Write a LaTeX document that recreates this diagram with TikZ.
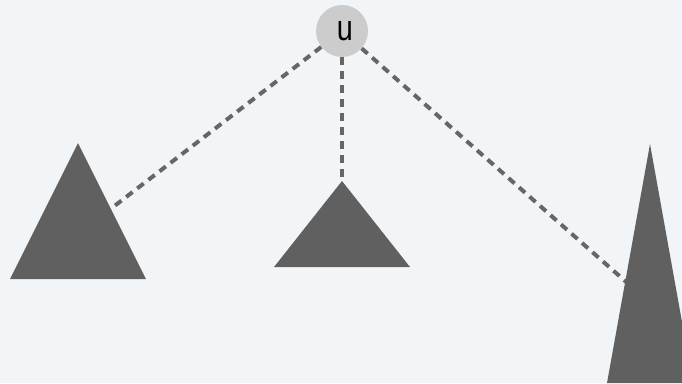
\documentclass[tikz,border=0pt]{standalone}
\usepackage{fontspec}
\setmainfont{Liberation Sans}
\definecolor{bgc}{HTML}{F2F5F8}
\definecolor{tric}{HTML}{606060}
\definecolor{nodec}{HTML}{CCCCCC}
\definecolor{dashc}{HTML}{666666}
\begin{document}
\begin{tikzpicture}[x=1pt,y=-1pt,
  subtree/.style={fill=tric,draw=none},
  link/.style={draw=dashc,line width=4pt,dash pattern=on 8pt off 6pt},
  vert/.style={circle,fill=nodec,draw=none,minimum size=52pt,inner sep=0pt}]
\fill[bgc] (0,0) rectangle (682,383);
\useasboundingbox (0,0) rectangle (682,383);
\node[vert] (u) at (342,31) {};
\node[inner sep=0pt] (ulabel) at ([xshift=3pt]u.center) {\scalebox{0.8}[1]{\fontsize{36}{36}\selectfont u}};
\coordinate (c1) at (78,234);
\coordinate (c2) at (342,238);
\coordinate (c3) at (650,303);
\draw[link] (u) -- (c1);
\draw[link] (u) -- (c2);
\draw[link] (u) -- (c3);
\fill[subtree] (78,143) -- (146,279) -- (10,279) -- cycle;
\fill[subtree] (342,181) -- (410,267) -- (274,267) -- cycle;
\begin{scope}
\clip (0,0) rectangle (682,383);
\fill[subtree] (650,144) -- (693,383) -- (607,383) -- cycle;
\end{scope}
\end{tikzpicture}
\end{document}
